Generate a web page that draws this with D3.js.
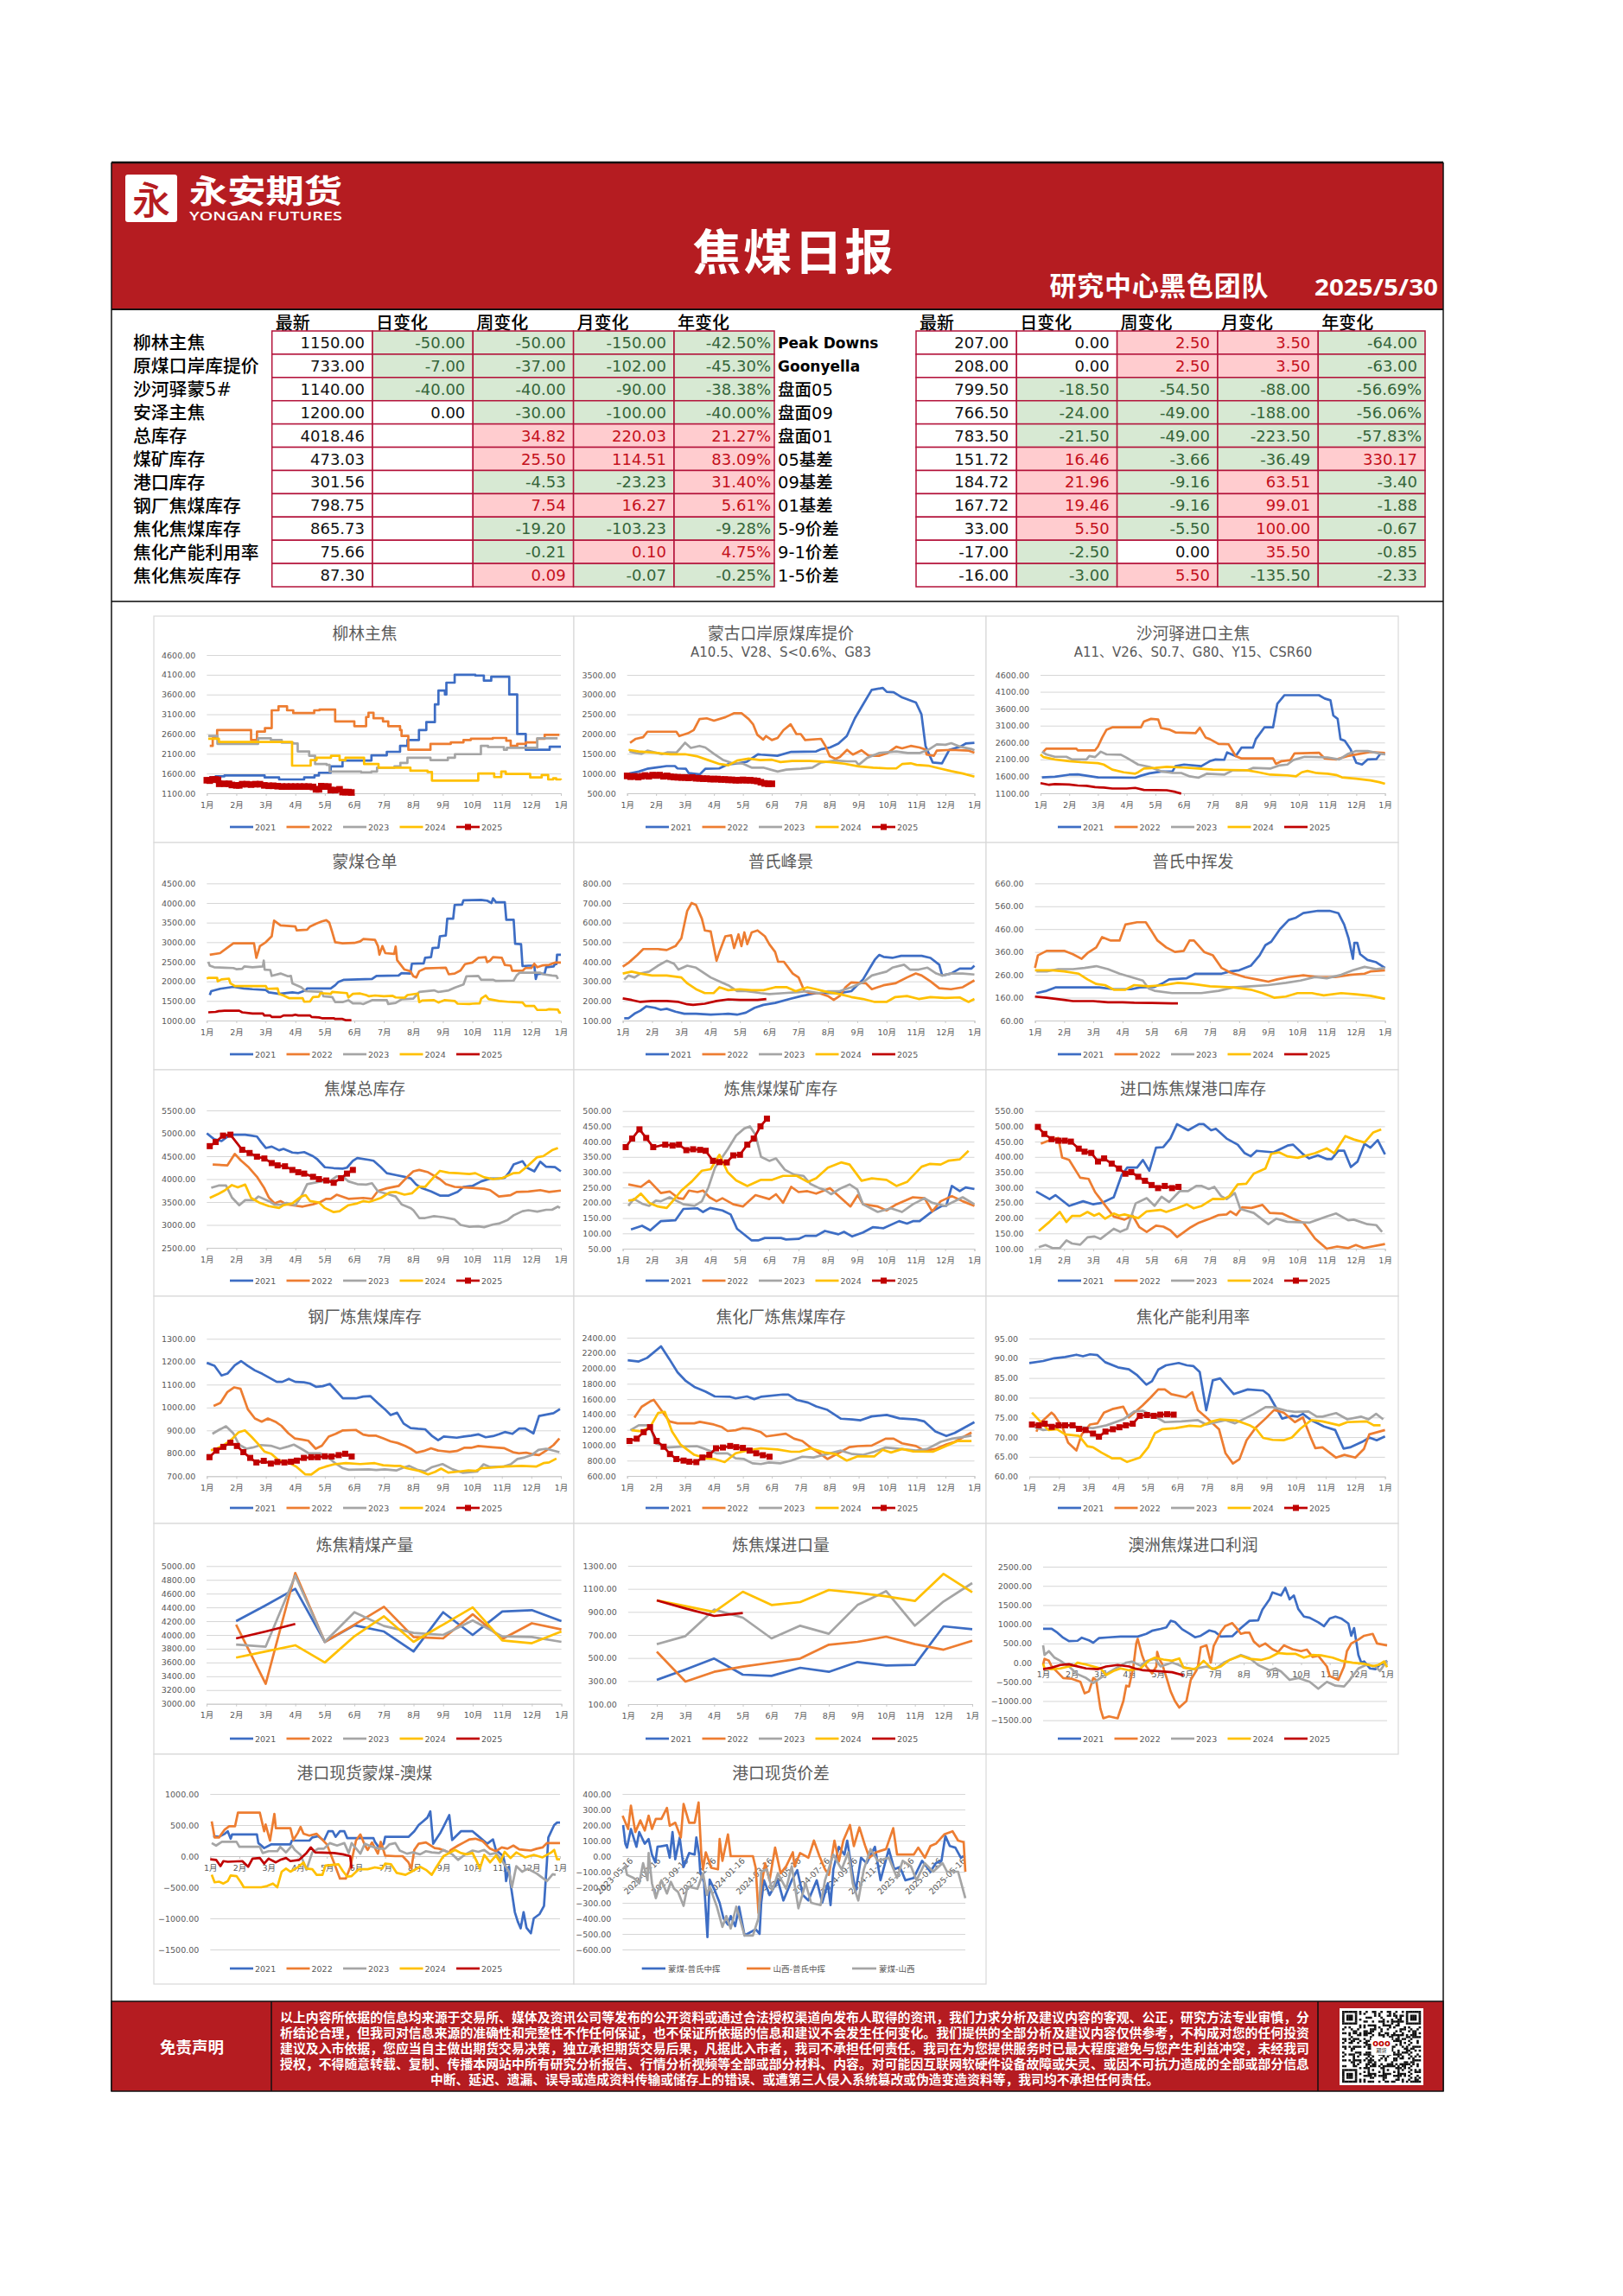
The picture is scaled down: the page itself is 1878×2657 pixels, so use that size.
<!DOCTYPE html>
<html><head><meta charset="utf-8">
<script src="https://cdn.jsdelivr.net/npm/d3@7"></script>
<style>html,body{margin:0;padding:0;background:#fff}svg{display:block}</style></head><body>
<svg id="s" width="1878" height="2657"></svg>
<script>
// ---------- table data ----------
const colHeads=['最新','日变化','周变化','月变化','年变化'];
const leftLabels=['柳林主焦','原煤口岸库提价','沙河驿蒙5#','安泽主焦','总库存','煤矿库存','港口库存','钢厂焦煤库存','焦化焦煤库存','焦化产能利用率','焦化焦炭库存'];
const leftLatest=['1150.00','733.00','1140.00','1200.00','4018.46','473.03','301.56','798.75','865.73','75.66','87.30'];
const leftDay=['-50.00','-7.00','-40.00','0.00','','','','','','',''];
const leftWeek=['-50.00','-37.00','-40.00','-30.00','34.82','25.50','-4.53','7.54','-19.20','-0.21','0.09'];
const leftMonth=['-150.00','-102.00','-90.00','-100.00','220.03','114.51','-23.23','16.27','-103.23','0.10','-0.07'];
const leftYear=['-42.50%','-45.30%','-38.38%','-40.00%','21.27%','83.09%','31.40%','5.61%','-9.28%','4.75%','-0.25%'];
const rightLabels=['Peak Downs','Goonyella','盘面05','盘面09','盘面01','05基差','09基差','01基差','5-9价差','9-1价差','1-5价差'];
const rightLatest=['207.00','208.00','799.50','766.50','783.50','151.72','184.72','167.72','33.00','-17.00','-16.00'];
const rightDay=['0.00','0.00','-18.50','-24.00','-21.50','16.46','21.96','19.46','5.50','-2.50','-3.00'];
const rightWeek=['2.50','2.50','-54.50','-49.00','-49.00','-3.66','-9.16','-9.16','-5.50','0.00','5.50'];
const rightMonth=['3.50','3.50','-88.00','-188.00','-223.50','-36.49','63.51','99.01','100.00','35.50','-135.50'];
const rightYear=['-64.00','-63.00','-56.69%','-56.06%','-57.83%','330.17','-3.40','-1.88','-0.67','-0.85','-2.33'];
const monthLabels=['1月','2月','3月','4月','5月','6月','7月','8月','9月','10月','11月','12月','1月'];
const yearNames=['2021','2022','2023','2024','2025'];

// ---------- series: flat lists of month position, value ----------
const liulin21=[.08,1500,.3,1530,.6,1550,1.96,1500,2.45,1450,3.3,1500,3.65,1550,3.8,1620,4.2,1780,4.6,1930,5.58,2060,6.1,2150,6.55,2300,6.8,2450,7.19,2700,7.44,2900,7.73,3350,7.85,3700,8.07,3600,8.12,3900,8.4,4100,9.1,4080,9.39,3950,9.64,4050,10.25,3600,10.52,2600,10.81,2200,11.62,2280,12,2280];
const liulin22=[.1,2300,.2,2490,.35,2700,1.5,2450,1.7,2660,1.97,2750,2.2,3200,2.43,3300,2.72,3200,2.93,3130,3.64,3200,3.82,3220,4.35,2920,5,2800,5.4,3030,5.48,3140,5.65,3000,5.97,2920,6.15,2800,6.55,2700,6.6,2550,6.83,2200,7.58,2350,8.27,2390,8.7,2450,8.95,2480,9.69,2500,10.15,2430,10.3,2300,10.52,2350,10.81,2390,11.2,2480,11.45,2580,11.95,2580];
const liulin23=[.05,2550,.36,2350,1.74,2490,2.17,2450,2.54,2380,2.93,2360,3.08,2160,3.47,2050,3.67,1840,4.06,1820,4.16,1650,5.23,1630,5.58,1650,5.77,1750,6.36,1780,6.56,1870,6.8,2000,7.58,1940,8.17,2000,8.41,2090,9.29,2300,9.53,2270,10.07,2200,10.17,2250,11.2,2490,11.89,2490];
const liulin24=[.05,2480,.41,2400,2.89,1800,3.52,1940,3.72,2000,4.21,2050,4.5,1940,4.7,2000,5.33,1840,5.82,1750,6.9,1670,7.48,1640,7.63,1420,9.2,1600,9.74,1510,9.98,1650,10.13,1590,10.96,1500,11.35,1560,11.57,1450,11.74,1480,11.84,1450,12,1440];
const liulin25=[0,1430,.1,1420,.2,1450,.3,1450,.38,1440,.42,1340,.6,1340,.75,1340,.85,1310,1,1300,1.1,1300,1.2,1330,1.35,1330,1.5,1320,1.65,1330,1.8,1330,1.95,1300,2.1,1290,2.25,1290,2.4,1280,2.55,1270,2.7,1270,2.85,1270,3,1270,3.15,1270,3.3,1270,3.45,1270,3.6,1260,3.7,1200,3.8,1200,3.88,1280,4,1270,4.12,1270,4.2,1180,4.35,1180,4.5,1200,4.6,1130,4.7,1130,4.8,1130,4.9,1120];

const mengk21=[.08,1000,.4,1050,.69,1120,1.07,1160,1.36,1190,1.65,1190,1.74,1130,2.03,1120,2.13,1010,2.51,980,2.7,1120,3.18,1130,3.47,1230,3.75,1250,4.14,1300,4.52,1490,4.62,1480,5.19,1450,5.67,1550,6.53,1560,6.72,1620,7.01,1660,7.3,1760,7.59,1950,7.87,2400,8.16,2760,8.45,3120,8.83,3170,8.97,3070,9.21,3060,9.5,2930,9.98,2800,10.17,2500,10.31,1700,10.56,1280,10.88,1260,11.13,1600,11.51,1680,11.7,1760,12,1780];
const mengk22=[.1,1780,.3,1880,.55,1920,.7,2060,1.7,2060,1.8,1950,2.1,2020,2.3,2100,2.5,2380,2.75,2400,3,2340,3.4,2430,3.7,2530,3.95,2530,4.2,2380,4.35,2250,4.5,1980,4.7,1860,4.8,1950,5,1850,5.2,1900,5.4,2100,5.65,2250,5.85,2000,6,2000,6.15,1850,6.7,1880,6.85,1700,7,1440,7.2,1370,7.35,1420,7.6,1600,7.8,1480,8.1,1590,8.35,1450,8.7,1450,9,1520,9.3,1680,9.5,1640,9.8,1700,10.1,1660,10.3,1610,10.35,1480,10.6,1450,10.7,1580,11.2,1600,11.8,1580,12,1530];
const mengk23=[.08,1560,.3,1520,.5,1500,.7,1580,1,1530,1.2,1490,1.4,1540,1.7,1530,1.85,1650,2,1780,2.2,1650,2.5,1700,2.7,1660,3,1500,3.3,1350,3.6,1270,4,1250,4.3,1150,4.7,1150,5.2,1050,5.5,1100,6,1120,6.4,1150,6.7,1280,7.2,1330,7.6,1310,7.9,1310,8,1220,8.3,1400,8.7,1520,9.3,1560,9.7,1520,10.1,1520,10.4,1600,10.7,1740,11,1730,11.2,1770,11.5,1680,11.9,1620,12,1590];
const mengk24=[.05,1600,.4,1560,.9,1530,1.5,1490,2,1490,2.4,1440,2.8,1340,3.2,1240,3.5,1210,3.8,1330,4.2,1380,4.6,1340,5,1350,5.3,1290,5.7,1320,6.3,1320,7,1290,7.5,1250,8,1180,8.5,1150,9,1130,9.3,1130,9.5,1240,9.8,1260,10,1220,10.4,1200,10.8,1130,11.2,1060,11.6,1000,12,920];
const mengk25=[0,940,.12,920,.25,930,.38,910,.5,930,.62,950,.75,930,.88,960,1,950,1.12,960,1.25,930,1.38,940,1.5,920,1.62,910,1.75,905,1.88,900,2,900,2.12,890,2.25,900,2.38,880,2.5,880,2.62,870,2.75,870,2.88,860,3,860,3.12,860,3.25,850,3.38,850,3.5,840,3.62,840,3.75,830,3.88,830,4,840,4.12,830,4.25,830,4.38,820,4.5,810,4.62,780,4.75,750,4.88,740,5,740];

const shahe21=[.05,1570,.5,1590,1,1650,1.3,1660,1.75,1600,2,1570,3.3,1560,3.5,1620,3.8,1690,4.2,1740,4.6,1750,4.7,1900,5,1950,5.6,1900,5.9,2050,6.1,2100,6.4,2090,6.5,2310,6.8,2200,7,2450,7.4,2450,7.5,2700,7.8,3050,8.1,3050,8.25,3750,8.5,4000,9.7,4000,9.9,3900,10.1,3850,10.2,3400,10.35,3300,10.45,2700,10.6,2650,10.8,2400,11,2000,11.2,1950,11.4,2100,11.7,2110,11.85,2280,12,2250];
const shahe22=[.1,2330,.2,2420,1.25,2420,1.3,2370,1.9,2370,2,2480,2.15,2750,2.3,2980,2.5,3050,3.5,3050,3.6,3220,3.85,3300,4.1,3280,4.2,3030,4.5,2980,4.7,2900,5.4,2880,5.55,3040,5.75,2750,5.9,2700,6.2,2560,6.55,2550,6.8,2200,7,2130,8.1,2130,8.2,1970,8.4,2050,8.7,2080,8.85,2280,9.7,2300,9.9,2130,10.3,2100,10.7,2200,11.2,2280,11.5,2320,12,2290];
const shahe23=[.05,2330,.2,2250,.5,2180,.9,2180,1.1,2100,1.6,2100,1.7,2200,1.9,2170,2.1,2330,2.3,2250,2.8,2240,3,2150,3.4,1950,3.8,1880,4.2,1750,4.6,1700,4.9,1700,5.2,1600,5.5,1560,5.8,1680,6.4,1650,6.7,1780,7.2,1780,7.4,1850,8,1830,8.3,1920,8.6,1950,8.8,2080,9.2,2180,10,2160,10.4,2100,10.7,2260,11,2350,11.4,2350,11.8,2280,12,2250];
const shahe24=[0,2250,.1,2170,.5,2100,1,2050,1.4,2020,2,1990,2.2,1950,2.5,1800,2.9,1720,3.3,1680,3.4,1720,3.6,1830,4,1850,4.4,1880,5,1860,5.5,1830,6,1800,6.6,1790,7.2,1780,7.6,1720,8,1650,8.6,1630,8.9,1600,9.1,1720,9.3,1760,9.6,1700,10,1680,10.3,1640,10.5,1570,11,1530,11.5,1480,11.8,1430,12,1380];
const shahe25=[0,1400,.3,1350,.5,1370,1,1360,1.3,1330,1.6,1320,1.9,1280,2.2,1270,2.5,1240,3,1240,3.3,1260,3.6,1200,4.4,1190,4.7,1140,4.9,1090];

const cangd21=[.1,1650,.15,1750,.45,1810,.9,1860,1.25,1820,1.55,1800,2,1780,2.1,1720,2.45,1680,2.9,1720,3.1,1700,3.35,1770,3.4,1820,4.2,1820,4.35,1900,4.45,1980,4.65,2040,5.6,2060,5.75,2140,6.5,2150,6.6,2210,6.9,2200,6.95,2450,7.35,2460,7.4,2600,7.6,2620,7.65,2850,7.85,2860,7.9,3150,8.1,3170,8.15,3600,8.35,3600,8.4,3950,8.65,3960,8.7,4070,9.3,4080,9.4,4070,9.5,4060,9.65,4000,9.7,4120,9.8,4020,10.1,4020,10.15,3570,10.4,3570,10.45,2960,10.65,2950,10.7,2390,10.9,2400,11.1,2400,11.15,2060,11.2,2190,11.45,2200,11.5,2360,11.75,2380,11.8,2440,11.85,2440,11.87,2680,12,2680];
const cangd22=[.1,2680,.45,2720,.9,2970,1.6,2970,1.68,2600,1.8,2900,2,3000,2.2,3150,2.28,3550,2.5,3430,3,3400,3.05,3300,3.4,3320,3.5,3400,3.7,3470,3.9,3530,4.05,3560,4.15,3500,4.25,3260,4.35,3000,4.6,2970,5,2980,5.2,3020,5.3,3080,5.7,3060,5.8,2900,5.85,2680,5.95,2900,6.05,2720,6.35,2700,6.4,2890,6.45,2540,6.7,2300,6.9,2260,7,2130,7.1,2100,7.2,2260,7.4,2330,8.1,2350,8.2,2180,8.4,2200,8.6,2280,8.75,2440,9,2480,9.2,2600,9.45,2620,9.5,2490,9.6,2530,9.7,2620,10,2600,10.1,2420,10.3,2400,10.35,2270,10.7,2270,10.8,2340,11,2340,11.1,2450,11.2,2360,11.4,2410,11.6,2420,11.8,2480,12,2480];
const cangd23=[.05,2500,.1,2400,.25,2360,.6,2350,.9,2340,1,2310,1.2,2320,1.27,2380,1.55,2360,1.9,2380,1.93,2530,1.96,2300,2.15,2290,2.2,2140,2.5,2200,2.75,2130,2.85,2140,2.9,1950,3.2,1850,3.35,1750,3.9,1730,3.95,1620,4.25,1600,4.35,1470,4.6,1470,4.8,1520,4.95,1440,5.2,1440,5.3,1420,5.6,1520,6.1,1520,6.15,1420,6.4,1450,6.6,1540,7,1560,7.2,1730,7.7,1770,7.85,1730,8.2,1770,8.4,1840,8.7,1920,8.8,2130,9.2,2140,9.3,2040,9.7,2040,9.8,2010,10.4,2020,10.5,2150,10.6,2220,11.3,2220,11.4,2180,11.7,2150,11.85,2140,11.9,2060];
const cangd24=[0,2070,.05,2090,.35,2090,.37,2000,.5,2050,.75,2070,.8,1950,.95,1880,1.8,1880,2,1880,2.05,1810,2.4,1820,2.45,1680,2.6,1640,2.8,1570,3.25,1570,3.3,1480,3.5,1490,3.6,1600,3.8,1610,3.85,1700,4.2,1680,4.25,1730,4.75,1700,4.8,1590,4.95,1680,5.2,1690,5.4,1650,5.5,1620,5.7,1640,6,1620,6.3,1630,6.4,1590,6.7,1580,6.8,1650,7.15,1690,7.2,1470,7.3,1510,7.7,1520,7.85,1460,8.05,1520,8.4,1500,8.5,1430,8.9,1420,9,1430,9.25,1440,9.3,1560,9.45,1640,9.55,1550,9.9,1500,10.2,1480,10.7,1460,10.8,1370,11.1,1370,11.2,1270,11.5,1270,11.6,1290,11.9,1280,11.95,1200,12,1210];
const cangd25=[.05,1210,.3,1220,.4,1240,.6,1250,1.1,1250,1.2,1210,1.55,1180,1.9,1180,1.95,1130,2.15,1130,2.2,1090,2.5,1090,2.6,1130,2.9,1130,3,1150,3.1,1130,3.5,1130,3.55,1090,3.8,1080,3.9,1060,4.3,1060,4.35,1040,4.6,1040,4.7,1010,4.9,1010];

const peak21=[.05,112,.2,112,.4,135,.6,150,.8,172,1.1,165,1.3,155,1.5,160,1.8,145,2.1,135,2.5,135,3,130,3.4,133,3.6,135,3.9,130,4.2,140,4.5,165,4.8,180,5.2,190,5.7,210,6.1,225,6.6,240,7,240,7.4,240,7.8,250,8.2,310,8.4,360,8.6,410,8.75,435,8.9,425,9.2,420,9.5,430,10.2,430,10.5,420,10.8,385,10.9,330,11.2,340,11.5,365,11.9,365,12,380];
const peak22=[0,375,.2,395,.5,435,.7,465,1.2,465,1.5,460,1.8,480,2,520,2.2,660,2.35,700,2.5,690,2.7,620,2.8,560,3,555,3.1,480,3.2,405,3.3,450,3.5,530,3.7,535,3.8,470,3.95,540,4.05,480,4.15,550,4.25,490,4.4,550,4.6,560,4.85,530,5,490,5.2,450,5.3,400,5.5,400,5.8,340,6,320,6.2,250,6.4,240,6.7,240,7,225,7.2,205,7.4,225,7.6,270,7.8,295,8.3,290,8.5,260,8.9,280,9.3,290,9.7,320,10,340,10.2,330,10.5,300,10.8,265,11.2,260,11.6,270,12,305];
const peak23=[.05,310,.2,330,.4,320,.6,340,.9,350,1.2,380,1.5,405,1.75,390,1.9,360,2.2,380,2.5,370,2.7,350,3,320,3.3,300,3.6,280,3.9,250,4.2,250,4.5,245,4.7,240,5,235,5.5,240,6,245,6.3,250,6.7,240,7,250,7.4,250,7.8,270,8.2,295,8.5,330,9,350,9.2,370,9.6,385,9.8,360,10.1,360,10.4,370,10.7,340,10.9,330,11.2,340,11.6,340,12,335];
const peak24=[0,340,.3,350,.6,340,1,330,1.5,330,2,320,2.2,290,2.5,260,2.8,240,3.1,240,3.3,270,3.6,255,4,260,4.4,255,4.8,255,5.2,270,5.6,270,5.9,250,6.3,270,6.6,260,7,245,7.4,235,7.8,220,8.2,210,8.6,195,9,195,9.3,220,9.7,225,10.1,210,10.5,220,11,215,11.5,218,11.8,195,12,210];
const peak25=[0,213,.3,205,.6,195,1,200,1.5,200,1.9,195,2.2,183,2.4,180,2.8,186,3.2,200,3.6,208,4,205,4.6,205,4.9,210];

const mid21=[.05,180,.4,190,.7,205,1.2,205,1.9,205,2.2,205,2.7,197,3.3,197,3.6,205,4.1,207,4.4,225,4.6,240,5.2,245,5.5,265,6.4,265,6.7,275,7,280,7.4,300,7.7,345,7.9,390,8.1,405,8.4,460,8.7,500,8.95,510,9.2,530,9.7,540,10.1,540,10.4,530,10.6,480,10.75,420,10.9,330,10.95,400,11.05,400,11.15,350,11.4,325,11.7,315,12,290];
const mid22=[0,290,.1,345,.4,365,1,365,1.3,350,1.6,330,1.8,355,2.1,380,2.3,425,2.6,410,2.9,410,3.1,480,3.5,490,3.8,490,4,450,4.2,410,4.5,380,4.8,360,5.1,365,5.3,410,5.45,410,5.8,360,6.1,345,6.4,290,6.7,270,7.2,250,7.6,240,8,230,8.3,240,8.7,250,9.2,258,9.7,250,10.3,250,10.8,260,11.3,265,11.5,275,12,280];
const mid23=[.05,275,.4,275,.8,285,1.3,285,1.7,290,2.1,298,2.5,285,2.9,265,3.3,250,3.7,235,3.9,200,4.1,190,4.7,180,5.2,180,5.7,180,6.3,190,6.8,205,7.4,210,8,215,8.6,225,9.1,235,9.6,250,10,245,10.5,260,10.9,280,11.3,295,11.7,285,12,290];
const mid24=[0,280,.6,280,1,275,1.5,265,1.8,240,2.1,220,2.4,215,2.7,195,3.1,195,3.4,215,3.9,210,4.4,215,4.9,225,5.4,220,6,210,6.8,205,7.4,195,7.8,180,8.2,160,8.6,165,9,180,9.5,180,9.9,170,10.5,180,11,175,11.5,168,12,155];
const mid25=[0,165,.4,160,1,150,1.3,145,2,145,2.5,140,3,140,3.4,138,4,137,4.7,135,4.9,135];

const total21=[0,5000,.25,4870,.5,4830,.75,4950,.9,4970,1.3,4970,1.5,4950,1.7,4930,1.85,4800,2,4680,2.2,4710,2.45,4630,2.6,4660,2.9,4580,3.1,4570,3.3,4590,3.6,4500,3.75,4430,4,4260,4.3,4240,4.6,4230,4.75,4250,4.95,4400,5.1,4460,5.5,4420,5.65,4400,5.9,4260,6.1,4130,6.4,4090,6.7,4050,6.9,4020,7.1,3880,7.3,3800,7.6,3730,7.9,3640,8.2,3640,8.5,3720,8.7,3830,9,3850,9.3,3950,9.6,4010,9.9,4010,10.1,4030,10.25,4150,10.4,4320,10.7,4390,10.85,4250,11.1,4170,11.3,4380,11.5,4270,11.8,4260,12,4170];
const total22=[.2,4320,.7,4300,.95,4550,1.15,4410,1.4,4270,1.7,4050,1.95,3800,2.1,3600,2.3,3470,2.5,3520,2.7,3450,3,3420,3.25,3400,3.6,3450,3.85,3500,4.05,3570,4.2,3570,4.4,3660,4.8,3570,5.3,3590,5.6,3570,5.8,3740,6.1,3800,6.5,3850,6.8,4050,7,4170,7.2,4200,7.5,4150,7.9,4000,8.1,3890,8.4,3830,8.7,3820,9,3810,9.4,3790,9.6,3760,9.9,3620,10.3,3650,10.5,3720,10.9,3730,11.3,3760,11.6,3720,12,3750];
const total23=[.15,3810,.4,3860,.65,3860,.85,3600,1.1,3430,1.3,3540,1.6,3540,1.75,3620,2.1,3520,2.3,3440,2.5,3440,2.7,3480,3,3430,3.2,3620,3.4,3890,3.8,3940,4.2,3970,4.4,4060,4.6,4060,4.8,3950,5.1,3890,5.4,3880,5.6,3910,5.8,3730,6.1,3680,6.4,3620,6.6,3450,6.9,3370,7,3320,7.2,3150,7.4,3150,7.7,3190,8,3170,8.4,3120,8.6,3000,8.9,2960,9.2,2970,9.4,2950,9.7,3010,9.9,3030,10.2,3110,10.4,3210,10.7,3300,10.9,3320,11.2,3290,11.5,3330,11.7,3330,11.9,3400,11.97,3370];
const total24=[.1,3590,.4,3680,.6,3750,.85,3870,1.05,3820,1.3,3880,1.5,3590,1.8,3480,2.1,3410,2.45,3370,2.6,3430,2.9,3470,3.2,3620,3.35,3650,3.5,3520,3.8,3490,4,3370,4.3,3280,4.5,3300,4.8,3430,5.1,3470,5.3,3520,5.5,3500,5.9,3590,6.2,3710,6.4,3720,6.7,3660,6.95,3690,7.2,3840,7.4,3830,7.7,4050,7.9,4180,8.2,4140,8.5,4130,8.9,4110,9.1,4130,9.4,4040,9.7,4000,10,4020,10.4,4130,10.6,4140,10.9,4300,11.2,4480,11.4,4500,11.7,4630,11.9,4680];
const total25=[.1,4720,.3,4810,.55,4950,.8,4970,1.2,4640,1.45,4570,1.7,4490,1.95,4450,2.2,4350,2.4,4300,2.65,4280,2.9,4200,3.1,4150,3.3,4120,3.6,4050,3.8,4000,4.05,3970,4.3,3920,4.55,4020,4.75,4120,4.95,4200];

const mine21=[.28,113,.66,125,.94,110,1.3,140,1.8,143,2.07,180,2.55,182,2.74,170,2.98,183,3.4,175,3.68,162,3.9,115,4.4,77,4.62,77,4.85,85,5.4,85,5.57,80,6,82,6.23,92,6.6,92,6.9,108,7.36,97,7.55,105,7.83,90,8.2,103,8.53,120,8.9,117,9.43,140,9.7,132,9.9,140,10.13,140,10.56,172,10.9,190,11.04,190,11.23,255,11.5,238,11.7,250,12,245];
const mine22=[.19,260,.62,252,.9,272,1.3,232,1.6,237,1.9,215,2.07,213,2.26,240,2.55,235,2.74,240,2.96,218,3.2,205,3.4,215,3.77,195,4.1,188,4.53,225,5,212,5.23,228,5.47,200,5.75,252,6,235,6.3,238,6.6,230,7.07,248,7.45,215,7.77,188,8.02,225,8.2,195,8.7,188,9,175,9.34,195,9.9,218,10.3,215,10.56,172,10.85,205,11.23,222,11.6,205,12,190];
const mine23=[.19,190,.38,213,.66,197,.9,190,1.13,207,1.3,205,1.6,218,2.07,195,2.45,190,2.7,205,2.92,250,3.15,315,3.58,375,3.87,420,4.15,443,4.34,450,4.53,422,4.72,350,5,337,5.23,345,5.53,308,5.85,292,6.17,288,6.4,262,6.7,248,6.9,242,7.11,228,7.45,248,7.74,260,8,244,8.2,195,8.7,170,9.15,182,9.53,170,9.9,195,10.3,215,10.56,200,11,190,11.6,218,12,195];
const mine24=[.19,207,.38,210,.62,230,.9,200,1.2,188,1.5,183,1.7,205,2,240,2.36,270,2.7,305,3,310,3.3,357,3.58,300,3.87,273,4.25,255,4.72,275,5.1,275,5.47,288,5.94,288,6.32,268,6.6,280,7,315,7.45,332,7.74,325,8.15,272,8.5,280,9,275,9.34,255,9.7,268,10.2,318,10.47,327,10.85,325,11.13,338,11.5,342,11.8,370];
const mine25=[.1,382,.32,410,.57,440,.8,412,1.04,382,1.45,390,1.7,387,1.92,390,2.17,372,2.4,375,2.64,373,2.83,370,3.08,337,3.3,333,3.55,332,3.77,355,4,357,4.25,390,4.47,410,4.7,450,4.92,475];

const port21=[.04,287,.5,262,.7,275,1.17,240,1.65,255,2,245,2.3,250,2.7,268,2.97,340,3.16,365,3.5,365,3.7,390,3.92,355,4.15,430,4.4,432,4.64,460,4.87,507,5.25,487,5.62,507,5.78,507,6.04,487,6.2,492,6.57,460,6.95,440,7.18,413,7.4,402,7.6,420,8.18,415,8.66,437,8.85,440,9.2,408,9.4,395,9.7,405,10,393,10.17,393,10.4,420,10.6,420,10.83,367,11.06,385,11.3,443,11.5,430,11.75,455,12,408];
const port22=[.2,443,.6,458,.8,462,.93,398,1.17,390,1.55,332,1.84,328,2.06,285,2.3,255,2.7,205,3.07,195,3.35,208,3.58,170,3.83,155,4.15,175,4.4,172,4.64,160,4.87,138,5.34,170,5.62,185,6,198,6.3,210,6.57,212,6.7,222,6.9,210,7.1,235,7.42,233,7.8,243,8.05,217,8.47,215,8.85,198,9.2,185,9.6,133,10,100,10.36,107,10.74,102,11,112,11.27,102,12,115];
const port23=[.13,105,.36,112,.6,102,.85,102,1.08,127,1.27,117,1.55,113,1.8,137,2.03,140,2.25,132,2.7,165,2.92,155,3.16,165,3.45,248,3.83,265,4.1,240,4.34,270,4.6,252,4.96,288,5.25,288,5.53,305,5.72,305,5.96,295,6.15,302,6.38,272,6.57,262,6.85,282,7.04,230,7.5,217,8,180,8.27,198,8.65,188,9.4,185,10,205,10.32,215,10.74,193,10.93,195,11.4,180,11.7,177,11.9,155];
const port24=[.13,158,.5,188,.85,220,1.08,187,1.27,207,1.55,207,1.8,220,2.03,208,2.2,215,2.4,198,2.7,215,2.88,208,3.07,212,3.54,200,3.83,222,4.3,227,4.5,220,4.87,232,5.2,245,5.44,232,5.72,240,6.1,263,6.47,262,6.66,272,6.95,310,7.24,312,7.5,345,7.9,362,8.1,410,8.37,415,8.65,402,9,397,9.6,412,10,428,10.26,412,10.64,468,10.93,457,11.3,447,11.6,480,11.87,490];
const port25=[.1,498,.32,475,.57,458,.8,453,1.02,453,1.23,450,1.5,427,1.7,417,1.93,413,2.16,385,2.37,395,2.63,378,2.88,362,3.1,345,3.3,350,3.54,335,3.77,322,4,308,4.22,298,4.45,305,4.7,298,4.92,302];

const steel21=[0,1195,.26,1182,.5,1140,.7,1148,.95,1185,1.16,1203,1.39,1182,1.63,1162,1.88,1147,2.12,1130,2.37,1112,2.56,1112,2.78,1125,3,1112,3.29,1110,3.49,1105,3.71,1090,3.93,1093,4.17,1103,4.61,1040,5.05,1040,5.3,1048,5.54,1050,5.79,1020,6.03,993,6.23,967,6.45,977,6.67,930,6.91,910,7.16,907,7.4,905,7.64,875,7.84,857,8.03,873,8.47,868,8.72,873,8.96,877,9.2,883,9.45,870,9.7,875,9.9,883,10.1,893,10.36,885,10.58,908,10.79,908,11.07,887,11.26,963,11.75,975,11.97,993];
const steel22=[.23,1007,.46,1020,.7,1068,.93,1088,1.14,1082,1.39,992,1.63,952,1.86,938,2.07,952,2.32,938,2.53,920,2.76,888,2.98,865,3.22,860,3.44,855,3.69,820,3.9,833,4.13,873,4.37,885,4.61,900,5.05,902,5.3,882,5.49,877,5.74,877,5.98,865,6.23,852,6.47,845,6.72,832,6.91,820,7.11,803,7.35,810,7.6,822,7.84,812,8.23,806,8.47,810,8.72,824,8.96,824,9.2,832,9.7,826,10.09,822,10.38,805,10.58,800,10.82,803,11.07,795,11.26,792,11.5,812,11.75,836,11.95,865];
const steel23=[.19,885,.41,902,.65,918,.9,887,1.09,838,1.34,820,1.55,825,1.83,836,2.17,833,2.48,820,2.76,830,2.95,838,3.2,820,3.46,800,3.83,800,4.13,780,4.37,755,4.61,735,4.81,728,5.49,730,5.74,727,6.03,730,6.42,725,6.67,738,6.86,745,7.16,727,7.4,722,7.64,740,7.99,753,8.33,730,8.67,715,9.16,720,9.38,752,9.6,740,10.04,742,10.3,752,10.53,775,10.77,782,11.02,793,11.24,815,11.5,820,11.95,805];
const steel24=[.14,813,.36,822,.6,838,.85,862,1.08,892,1.29,900,1.53,870,1.73,842,1.95,808,2.19,797,2.43,770,2.66,760,2.85,755,3.05,740,3.34,708,3.54,707,3.8,732,4.03,742,4.32,752,4.71,757,5.2,753,5.69,757,5.98,748,6.37,745,6.57,745,6.76,735,7.2,723,7.5,708,7.74,719,7.94,733,8.18,716,8.52,720,8.87,725,9.11,723,9.31,735,9.6,737,10.09,742,10.67,745,11.16,742,11.41,757,11.6,760,11.85,777];
const steel25=[.09,783,.32,812,.56,828,.8,846,1.02,832,1.24,805,1.47,780,1.68,760,1.93,767,2.17,755,2.39,762,2.63,760,2.85,763,3.05,768,3.29,780,3.54,783,3.76,783,4,787,4.23,786,4.47,792,4.69,798,4.91,786];

const coke21=[.02,2107,.4,2090,.69,2137,1.17,2287,1.46,2120,1.74,1950,2.03,1835,2.32,1760,2.7,1700,3.03,1635,3.56,1630,3.75,1610,4.14,1635,4.39,1600,4.62,1630,5.38,1660,5.57,1660,5.86,1590,6.25,1555,6.53,1505,6.92,1460,7.39,1345,7.78,1335,8.07,1325,8.45,1375,8.97,1395,9.41,1350,9.98,1335,10.27,1310,10.65,1180,11.03,1120,11.32,1160,12,1300];
const coke22=[.25,1360,.5,1500,.79,1570,.92,1590,1.17,1460,1.46,1310,1.74,1285,2.32,1285,2.51,1305,2.99,1270,3.28,1235,3.47,1185,3.75,1195,3.98,1222,4.23,1215,4.62,1170,4.81,1115,5.48,1150,5.77,1085,6.05,1055,6.34,970,6.63,900,6.92,820,7.39,915,7.68,975,7.97,988,8.45,995,8.93,1085,9.21,1085,9.5,1025,9.98,990,10.27,930,10.65,950,11.03,1010,11.32,1045,11.9,1165];
const coke23=[.11,1195,.4,1260,.79,1260,.98,1025,1.36,970,1.84,980,2.41,988,2.7,950,3.08,895,3.47,895,3.75,830,4.04,820,4.33,765,4.62,755,4.9,775,5.29,765,5.67,800,6.05,850,6.44,840,6.92,885,7.39,930,7.78,885,8.16,875,8.54,915,8.93,970,9.5,950,9.98,930,10.36,950,10.84,1045,11.23,1085,11.9,1125];
const coke24=[.15,1195,.5,1180,.79,1235,1.07,1420,1.3,1435,1.55,1180,1.84,1010,2.32,875,2.7,830,3.03,820,3.37,780,3.75,895,4.14,930,4.62,960,5.19,945,5.67,915,5.96,915,6.34,960,6.82,905,7.2,885,7.59,800,7.97,855,8.54,855,8.83,940,9.12,905,9.5,950,9.89,920,10.56,915,11.03,990,11.42,1055,11.9,1055];
const coke25=[.08,1055,.33,1085,.57,1170,.79,1235,1.02,1055,1.26,980,1.48,885,1.7,820,1.95,800,2.15,785,2.39,780,2.6,840,2.84,875,3.07,960,3.31,970,3.56,990,3.77,975,4,965,4.23,930,4.46,895,4.69,870,4.92,850];

const util21=[0,88.8,.47,89.3,.84,90,1.21,90.3,1.59,90.9,1.81,90.5,2.05,91,2.3,90.8,2.56,89,2.99,87.7,3.36,87.2,3.64,85.7,3.95,83.3,4.14,84.2,4.35,87.1,4.61,88.2,5.04,88.8,5.32,88.2,5.54,88,5.75,86.5,5.97,76.8,6.19,84.4,6.44,84.9,6.9,80.9,7.37,82.1,7.89,81.8,8.08,80.7,8.3,77.8,8.53,74.7,8.86,75.4,9.05,75.2,9.23,75.9,9.51,74.3,9.94,72.7,10.32,71.8,10.6,67.1,10.82,67.4,11.23,68.8,11.47,69.9,11.72,69.2,12,70.2];
const util22=[.24,71.4,.37,73.6,.75,76.2,.84,75.6,1.12,72.5,1.31,68.6,1.59,66.6,1.77,70.7,2.05,73.2,2.3,73.5,2.52,76.2,2.8,77.1,3.17,77.7,3.36,75,3.82,78,4.1,80.1,4.35,82.1,4.57,82.1,4.79,80.9,5.28,80.1,5.5,81.4,5.69,76.8,5.97,75,6.4,72,6.62,65.9,6.87,63.3,7.09,64.4,7.33,69.2,7.65,72.5,7.97,74.7,8.26,76.9,8.58,76.2,8.96,73.8,9.23,75,9.51,69.6,9.65,67.2,9.89,67.4,10.35,64.8,10.63,65.5,11,64.8,11.29,67,11.47,70.7,12,71.8];
const util23=[.19,72.5,.47,71.8,.84,72.1,1.21,73,1.68,72.5,2.15,72.3,2.61,73,3.17,74.5,3.54,76.5,3.82,76.7,4.2,75.4,4.57,73.8,5.13,74,5.69,74.3,5.97,73.2,6.62,74.3,6.94,73.5,7.56,75.8,7.97,77.6,8.21,77.6,8.68,76.7,8.96,76.4,9.42,76.5,9.7,75.2,9.89,75.2,10.35,76.1,10.73,74.5,11.19,75.2,11.44,74.5,11.7,75.9,11.94,74.5];
const util24=[.09,76.2,.37,74,.65,71.8,.93,72,1.21,70.7,1.68,70.3,1.96,67.7,2.15,67.4,2.43,66.1,2.8,64.6,3.08,64.6,3.3,63.7,3.73,64.8,4.01,67.4,4.24,71,4.48,72,4.94,72.3,5.41,72.9,5.78,72.7,6.16,74,6.44,74.5,7,74.2,7.46,72.9,7.65,72.1,7.89,69.8,8.21,69.3,8.58,69.2,8.86,69.9,9.14,72.1,9.51,74.3,9.89,74,10.45,73,10.73,73.8,11.38,74,11.62,73,11.85,73];
const util25=[.09,73.2,.32,73,.52,73.4,.76,72.6,.99,73,1.21,73,1.46,73,1.68,72.1,1.9,71.8,2.15,70.9,2.35,70.1,2.57,71.4,2.82,72,3.04,72.5,3.26,73,3.49,73.4,3.73,75.4,3.97,75.6,4.2,75.4,4.42,75.7,4.65,75.8,4.87,75.7];

// monthly series, first value falls on 2月
const output21=[4200,4430,4670,3900,4140,4050,3760,4330,4000,4340,4360,4200];
const output22=[4150,3290,4900,3900,4150,4410,3970,3950,4300,3940,4170,4080];
const output23=[3860,3830,4860,3900,4330,4130,4030,4000,4210,3980,3970,3900];
const output24=[3670,3760,3850,3600,3980,4270,3900,4150,4400,3920,3880,4050];
const output25=[3950,4050,4160];
const imports21=[310,400,495,355,345,415,380,465,435,440,775,750];
const imports22=[555,295,380,425,460,495,615,640,685,620,572,650];
const imports23=[620,690,920,850,670,780,710,960,1080,780,990,1150];
const imports24=[1000,950,900,1075,960,985,1090,1065,1035,995,1230,1070];
const imports25=[1000,930,865,890];

const profit21=[0,880,.3,880,.5,780,.7,650,.9,560,1.2,570,1.35,650,1.6,580,1.75,520,1.95,640,2.3,660,2.7,680,3.3,680,3.6,750,3.8,830,4.1,880,4.3,920,4.45,1090,4.6,1060,4.85,870,5.1,760,5.3,660,5.5,700,5.8,840,6,800,6.2,680,6.6,690,6.9,900,7.2,1090,7.5,1100,7.65,1380,7.9,1650,8,1830,8.3,1750,8.45,1950,8.6,1650,8.75,1750,8.9,1400,9.1,1200,9.3,1170,9.6,1050,9.8,950,10,1150,10.2,1200,10.4,1150,10.65,1020,10.75,700,10.85,900,11,200,11.1,0,11.2,30,11.4,-150,11.6,-170,11.75,-50,11.85,-30,12,50];
const profit22=[0,-50,.05,100,.2,50,.3,-100,.5,-250,.7,-400,1,-420,1.3,-500,1.45,-800,1.6,-750,1.75,-400,1.85,-450,2,-1200,2.1,-1450,2.3,-1400,2.6,-1450,2.8,-1000,2.9,-600,3,-620,3.15,-100,3.25,500,3.3,620,3.45,200,3.6,-100,3.8,-280,3.95,-100,3.98,280,4.05,100,4.15,-30,4.3,-380,4.45,-750,4.6,-1000,4.75,-1170,5,-1000,5.15,-450,5.35,-200,5.4,-100,5.5,400,5.7,450,5.85,0,5.95,430,6.2,800,6.35,950,6.6,1030,6.75,900,6.9,750,7.05,780,7.2,780,7.35,550,7.55,420,7.75,500,8,350,8.2,280,8.4,450,8.7,350,9,300,9.2,340,9.4,150,9.6,180,9.9,-100,10,-350,10.3,-450,10.5,-100,10.6,300,10.75,500,11,600,11.2,700,11.5,750,11.65,500,12,450];
const profit23=[0,450,.05,200,.2,300,.4,130,.6,50,.9,-100,1.2,-300,1.5,-400,1.75,-530,2,-400,2.3,-250,2.6,-120,2.9,0,3.1,30,3.4,-80,3.6,40,3.9,100,4.1,-100,4.3,-50,4.5,0,4.7,-50,4.9,-120,5.2,-170,5.7,-100,6,-170,6.3,0,6.6,100,6.9,200,7.2,120,7.5,-60,7.9,-200,8.1,-150,8.3,-230,8.6,-450,8.9,-400,9.3,-500,9.6,-680,9.9,-500,10.2,-600,10.5,-620,10.7,-450,11,-150,11.3,-50,11.6,-100,11.75,-220,12,50];
const profit24=[0,-30,.05,-150,.3,-170,.6,-150,.9,-100,1.1,-70,1.2,0,1.5,-50,2,-150,2.2,-320,2.45,-220,2.7,-150,3,-200,3.4,-150,3.7,60,3.9,130,4.2,80,4.5,50,4.75,110,4.9,-130,5.3,-170,5.6,50,5.9,-170,6.2,-100,6.5,70,6.9,180,7.2,100,7.6,70,7.9,130,8.2,250,8.5,230,8.8,230,9.1,130,9.4,200,9.7,190,10.1,130,10.4,50,10.8,0,11.2,-30,11.5,-90,11.7,-60,11.9,30,12,-120];
const profit25=[0,-170,.3,-130,.6,-60,.9,-40,1.1,-80,1.5,-150,1.9,-170,2.2,-100,2.6,-60,3,-100,3.2,-150,3.5,-200,4,-220,4.5,-250,4.9,-330];

const spread21=[.1,320,.3,310,.5,360,.6,400,.7,280,.75,350,1.6,350,1.65,210,1.85,130,2.1,190,2.75,190,2.8,250,3.4,250,3.5,300,3.7,320,3.9,250,4.05,400,4.2,400,4.3,310,4.45,400,4.6,400,4.7,290,5.6,290,5.65,230,5.8,130,5.95,200,6,310,6.8,310,7,400,7.15,500,7.3,560,7.45,620,7.55,720,7.65,200,7.9,380,8,470,8.2,660,8.3,260,8.6,400,9,400,9.25,300,9.5,200,9.7,270,9.8,100,10.05,0,10.1,-100,10.15,-400,10.25,-170,10.3,-430,10.45,-900,10.55,-1050,10.65,-1160,10.75,-900,10.85,-1150,11,-1240,11.1,-1000,11.3,-930,11.45,-800,11.55,-100,11.6,300,11.8,500,11.9,540,12,540];
const spread22=[.05,560,.15,300,.3,300,.5,430,.65,480,.85,480,.95,700,1.7,700,1.85,400,1.9,510,2.05,250,2.2,680,2.25,450,2.75,450,2.85,260,3,370,3.1,470,3.2,360,3.4,330,3.65,360,4,190,4.25,-110,4.45,-360,4.65,-360,4.8,-180,5,250,5.15,350,5.3,180,5.4,100,5.55,220,5.75,40,5.85,230,6,10,6.35,0,6.6,0,6.8,-100,6.9,-200,7,100,7.15,200,7.4,220,7.7,130,7.85,120,8.2,60,8.25,100,8.5,170,8.7,220,8.9,270,9.1,280,9.35,240,9.6,120,9.8,80,10,140,10.2,120,10.4,170,10.6,110,10.8,100,11,90,11.2,120,11.4,140,11.55,210,12,210];
const spread23=[.05,210,.2,170,.4,230,.9,230,1,150,1.7,150,1.8,50,2,80,2.3,80,2.4,150,2.6,60,2.8,170,2.9,100,3.1,20,3.3,-220,3.5,60,3.7,120,3.9,120,4.1,210,4.35,170,4.6,210,4.75,50,4.85,210,5.15,40,5.3,200,5.5,160,5.8,120,6,120,6.15,190,6.35,210,6.5,90,6.75,40,6.95,60,7.2,30,7.4,80,7.6,60,7.85,50,8,100,8.3,30,8.5,-60,8.75,30,9,90,9.2,70,9.4,100,9.6,30,9.8,50,10.05,-100,10.25,-250,10.35,-500,10.5,-160,10.7,-250,10.9,-200,11,-230,11.2,-280,11.4,-350,11.55,-400,11.75,-290,11.85,-300];
const spread24=[.05,-300,.15,-420,.3,-410,.45,-440,.6,-400,.7,-310,.9,-320,1.05,-420,1.15,-500,1.75,-500,1.95,-480,2.15,-440,2.3,-500,2.45,-250,2.6,-200,2.75,-250,3,-180,3.2,-100,3.3,-200,3.5,-210,3.65,-300,3.85,-300,3.95,-150,4.4,-130,4.55,-240,4.7,-330,4.85,-320,5.1,-210,5.4,-210,5.65,-180,5.9,-200,6,-120,6.2,-130,6.4,-270,6.7,-300,6.9,-250,7.2,-170,7.4,-220,7.6,-300,7.75,-180,8,0,8.2,50,8.4,100,8.6,50,8.8,30,9,50,9.15,-90,9.25,-200,9.4,20,9.6,-100,9.8,10,9.95,-100,10.1,70,10.3,-30,10.5,60,10.8,-20,11.1,20,11.4,-20,11.7,60,11.8,100,11.9,-50,12,-50];
const spread25=[0,-50,.2,-60,.35,-160,.45,-80,.6,-90,1.1,-80,1.3,-170,1.45,-40,1.7,-30,1.85,-120,2,-40,2.25,-100,2.4,-60,2.6,-30,2.75,-80,3.05,-60,3.3,50,3.45,140,3.6,60,4.25,50,4.55,30,4.8,0,4.85,-200];

// price differentials: flat lists of sample index (0-618), value
const diffMengPuShi=[1,200,5,80,8,55,15,175,25,60,30,155,40,80,47,110,53,10,59,-40,63,60,80,70,85,-10,90,155,95,-20,103,120,110,-70,120,20,130,10,133,120,138,10,140,-100,147,-170,153,-520,157,-150,165,-210,175,-300,182,-400,190,-440,195,-385,203,-450,210,-325,220,-510,240,-470,247,-500,250,-300,255,-155,265,-250,280,-155,290,-285,305,-155,315,-90,325,-250,335,-285,350,-155,360,-300,370,-175,375,-315,380,-85,390,60,400,10,405,100,420,-230,430,-10,440,-45,455,60,465,-155,480,45,490,-85,500,-70,510,-155,525,-140,540,-30,555,-100,565,-45,575,-30,582,130,590,65,600,55,610,-10,615,0];
const diffShanXi=[0,260,10,175,15,325,23,155,32,230,40,165,47,260,53,175,60,240,70,240,80,310,85,195,95,215,105,120,110,335,120,215,130,215,137,345,142,10,145,-85,150,25,160,-75,172,-85,175,110,180,-30,190,140,195,0,235,0,240,-75,245,-365,250,-195,257,-45,265,-155,275,55,285,-110,295,-65,307,25,310,-65,320,20,335,-10,345,100,355,0,365,-85,372,-120,382,100,390,-35,398,100,410,200,417,65,427,185,437,70,445,-10,457,25,475,45,488,180,495,10,525,10,533,55,545,-10,555,65,565,80,580,140,595,160,605,100,615,90,618,-100];
const diffMengShanXi=[0,-85,5,-65,8,-120,20,-140,30,-175,37,-45,45,-155,47,20,53,-175,60,-270,70,-155,80,-240,87,-165,93,-210,100,-230,110,-320,117,-195,135,-210,145,-110,152,-250,157,-195,170,-325,180,-455,187,-385,195,-465,205,-325,210,-385,220,-510,235,-510,245,-400,250,-100,260,-85,270,-220,280,-110,295,-210,305,-65,317,-335,330,-175,340,-300,357,-315,365,-155,380,10,395,-85,407,25,415,-175,425,-285,435,-85,447,45,460,-30,480,-10,495,-140,505,-30,520,-65,530,-155,545,-45,560,-100,577,-45,585,-100,605,-100,618,-270];
const diffDates=['2023-05-16','2023-07-16','2023-09-16','2023-11-16','2024-01-16','2024-03-16','2024-05-16','2024-07-16','2024-09-16','2024-11-16','2025-01-16','2025-03-16','2025-05-16'];
const diffDateIdx=[10,60,110,160,212,262,313,365,415,465,517,567,610];
const diffNames=['蒙煤-普氏中挥','山西-普氏中挥','蒙煤-山西'];

// tick lists
const ticksLiulin=[1100,1600,2100,2600,3100,3600,4100,4600];
const ticksMengk=[500,1000,1500,2000,2500,3000,3500];
const ticksCangd=[1000,1500,2000,2500,3000,3500,4000,4500];
const ticksPeak=[100,200,300,400,500,600,700,800];
const ticksMid=[60,160,260,360,460,560,660];
const ticksTotal=[2500,3000,3500,4000,4500,5000,5500];
const ticksMine=[50,100,150,200,250,300,350,400,450,500];
const ticksPort=[100,150,200,250,300,350,400,450,500,550];
const ticksSteel=[700,800,900,1000,1100,1200,1300];
const ticksCoke=[600,800,1000,1200,1400,1600,1800,2000,2200,2400];
const ticksUtil=[60,65,70,75,80,85,90,95];
const ticksOutput=[3000,3200,3400,3600,3800,4000,4200,4400,4600,4800,5000];
const ticksImports=[100,300,500,700,900,1100,1300];
const ticksProfit=[-1500,-1000,-500,0,500,1000,1500,2000,2500];
const ticksSpread=[-1500,-1000,-500,0,500,1000];
const ticksDiff=[-600,-500,-400,-300,-200,-100,0,100,200,300,400];

// ---------- layout / style ----------
const CJK='"Noto Sans CJK SC"';
const LAT='"DejaVu Sans","Noto Sans CJK SC"';
const colors=['#3d6dc4','#ed7d31','#a5a5a5','#ffc000','#c00000'];
const colX=[[178,664],[664,1141],[1141,1618]];
const rowY=[[713,975],[975,1238],[1238,1500],[1500,1763],[1763,2030],[2030,2296]];
const titleY=[731,995,1258,1522,1786,2050];
const pairs=f=>d3.range(0,f.length,2).map(i=>[f[i],f[i+1]]);
const monthly=a=>a.map((v,i)=>[i+1,v]);
const charts=[
 {t:'柳林主焦',c:0,r:0,L:239.3,R:649,T:758,B:918,ticks:ticksLiulin,s:[liulin21,liulin22,liulin23,liulin24,liulin25].map(pairs),step:[0,1,2,3],mark:true},
 {t:'蒙古口岸原煤库提价',sub:'A10.5、V28、S<0.6%、G83',c:1,r:0,L:725.7,R:1127.5,T:781,B:918,ticks:ticksMengk,s:[mengk21,mengk22,mengk23,mengk24,mengk25].map(pairs),mark:true},
 {t:'沙河驿进口主焦',sub:'A11、V26、S0.7、G80、Y15、CSR60',c:2,r:0,L:1204,R:1602.6,T:781,B:918,ticks:ticksLiulin,s:[shahe21,shahe22,shahe23,shahe24,shahe25].map(pairs)},
 {t:'蒙煤仓单',c:0,r:1,L:239.3,R:649,T:1022.3,B:1181,ticks:ticksCangd,s:[cangd21,cangd22,cangd23,cangd24,cangd25].map(pairs)},
 {t:'普氏峰景',c:1,r:1,L:720.6,R:1127.5,T:1022.3,B:1181,ticks:ticksPeak,s:[peak21,peak22,peak23,peak24,peak25].map(pairs)},
 {t:'普氏中挥发',c:2,r:1,L:1197.6,R:1602.6,T:1022.3,B:1181,ticks:ticksMid,s:[mid21,mid22,mid23,mid24,mid25].map(pairs)},
 {t:'焦煤总库存',c:0,r:2,L:239.3,R:649,T:1285,B:1444,ticks:ticksTotal,s:[total21,total22,total23,total24,total25].map(pairs),mark:true},
 {t:'炼焦煤煤矿库存',c:1,r:2,L:720.6,R:1127.5,T:1285.7,B:1445,ticks:ticksMine,s:[mine21,mine22,mine23,mine24,mine25].map(pairs),mark:true},
 {t:'进口炼焦煤港口库存',c:2,r:2,L:1197.6,R:1602.6,T:1285.7,B:1445,ticks:ticksPort,s:[port21,port22,port23,port24,port25].map(pairs),mark:true},
 {t:'钢厂炼焦煤库存',c:0,r:3,L:239.3,R:649,T:1549.3,B:1708.3,ticks:ticksSteel,s:[steel21,steel22,steel23,steel24,steel25].map(pairs),mark:true},
 {t:'焦化厂炼焦煤库存',c:1,r:3,L:725.7,R:1127.5,T:1548,B:1708,ticks:ticksCoke,s:[coke21,coke22,coke23,coke24,coke25].map(pairs),mark:true},
 {t:'焦化产能利用率',c:2,r:3,L:1191,R:1602.6,T:1549,B:1708.7,ticks:ticksUtil,s:[util21,util22,util23,util24,util25].map(pairs),mark:true},
 {t:'炼焦精煤产量',c:0,r:4,L:239,R:649.6,T:1812.3,B:1971.7,ticks:ticksOutput,s:[output21,output22,output23,output24,output25].map(monthly)},
 {t:'炼焦煤进口量',c:1,r:4,L:726.8,R:1125,T:1812,B:1972,ticks:ticksImports,s:[imports21,imports22,imports23,imports24,imports25].map(monthly)},
 {t:'澳洲焦煤进口利润',c:2,r:4,L:1207,R:1605,T:1813,B:1990.7,ticks:ticksProfit,s:[profit21,profit22,profit23,profit24,profit25].map(pairs),zero:true},
 {t:'港口现货蒙煤-澳煤',c:0,r:5,L:243.3,R:648,T:2076,B:2256,ticks:ticksSpread,s:[spread21,spread22,spread23,spread24,spread25].map(pairs),zero:true},
 {t:'港口现货价差',c:1,r:5,L:720.4,R:1117,T:2076,B:2256,ticks:ticksDiff,s:[diffMengPuShi,diffShanXi,diffMengShanXi].map(pairs),dates:true,zero:true}
];

const svg=d3.select('#s');
svg.append('rect').attr('width',1878).attr('height',2657).attr('fill','#fff');
const RED='#b51c21';

// ---------- header ----------
svg.append('rect').attr('x',129).attr('y',188).attr('width',1541).attr('height',170).attr('fill',RED);
svg.append('rect').attr('x',145).attr('y',202).attr('width',60).attr('height',55).attr('rx',3).attr('fill','#fff');
const txt=(g,x,y,s,o={})=>g.append('text').attr('x',x).attr('y',y).text(s)
  .attr('font-family',o.ff||CJK).attr('font-size',o.fs||12).attr('font-weight',o.fw||400)
  .attr('fill',o.fill||'#000').attr('text-anchor',o.a||'start').attr('dominant-baseline','central');
txt(svg,175,229,'永',{fs:44,fw:500,fill:RED,a:'middle'});
txt(svg,219,219,'永安期货',{fs:37,fw:700,fill:'#fff'}).attr('textLength',177).attr('lengthAdjust','spacingAndGlyphs');
txt(svg,219,249.5,'YONGAN FUTURES',{fs:14.5,fw:600,fill:'#fff',ff:'"Open Sans"'}).attr('textLength',177).attr('lengthAdjust','spacingAndGlyphs');
txt(svg,917.6,287,'焦煤日报',{fs:56,fw:700,fill:'#fff',a:'middle'}).attr('textLength',232);
txt(svg,1214.5,328.5,'研究中心黑色团队',{fs:31,fw:700,fill:'#fff'}).attr('textLength',253);
txt(svg,1521,331,'2025/5/30',{fs:27,fw:700,fill:'#fff',ff:'"Noto Sans"'}).attr('textLength',143).attr('lengthAdjust','spacingAndGlyphs');

// ---------- tables ----------
const rows=d3.scaleBand().domain(d3.range(11)).range([383,679]);
function table(labels,labelX,cols,edges,labelSize){
  colHeads.forEach((h,i)=>txt(svg,edges[i]+4,372,h,{fs:20,fw:500}));
  labels.forEach((l,j)=>{
    const latin=/^[A-Za-z ]+$/.test(l);
    txt(svg,labelX,rows(j)+rows.bandwidth()/2+1,l,{fs:latin?17:labelSize,fw:latin?700:500,ff:LAT});
  });
  cols.forEach((col,i)=>{
    const cw=edges[i+1]-edges[i];
    col.forEach((v,j)=>{
      const n=parseFloat(v);
      const tint=i===0||v===''||n===0?'#fff':(n<0?'#d7e9d3':'#ffcccf');
      svg.append('rect').attr('x',edges[i]).attr('y',rows(j)).attr('width',cw).attr('height',rows.bandwidth())
        .attr('fill',tint).attr('stroke','#b3123a').attr('stroke-width',1.5);
      const col2=i===0||n===0?'#111':(n<0?'#35653a':'#c4101c');
      if(v!=='') txt(svg,edges[i]+cw-(v.endsWith('%')?4:9),rows(j)+rows.bandwidth()/2,v,{fs:18,fill:col2,a:'end',ff:LAT});
    });
  });
}
table(leftLabels,154,[leftLatest,leftDay,leftWeek,leftMonth,leftYear],[314.7,431,547.3,663.6,780,896],20.8);
table(rightLabels,900,[rightLatest,rightDay,rightWeek,rightMonth,rightYear],[1060,1176.3,1292.6,1409,1525.3,1649],19.5);

// ---------- frame ----------
const frame=(x1,y1,x2,y2,c,w)=>svg.append('line').attr('x1',x1).attr('y1',y1).attr('x2',x2).attr('y2',y2).attr('stroke',c).attr('stroke-width',w);
frame(129,188,1670,188,'#111',2.5);frame(129,358,1670,358,'#111',2);frame(129,696,1670,696,'#444',2);
frame(129,188,129,2420,'#111',1.5);frame(1670,188,1670,2420,'#111',1.5);

// ---------- charts ----------
charts.forEach(ch=>{
  const [px0,px1]=colX[ch.c],[py0,py1]=rowY[ch.r];
  const g=svg.append('g');
  g.append('rect').attr('x',px0).attr('y',py0).attr('width',px1-px0).attr('height',py1-py0).attr('fill','#fff').attr('stroke','#d9d9d9').attr('stroke-width',1.2);
  const cx=(px0+px1)/2+1;
  txt(g,cx,titleY[ch.r],ch.t,{fs:18.8,fill:'#595959',a:'middle',fw:400});
  if(ch.sub) txt(g,cx,754.5,ch.sub,{fs:15,fill:'#595959',a:'middle',ff:LAT});
  const y=d3.scaleLinear().domain(d3.extent(ch.ticks)).range([ch.B,ch.T]);
  const x=d3.scaleLinear().domain(ch.dates?[0,618]:[0,12]).range([ch.L,ch.R]);
  const base=ch.zero?y(0):ch.B;
  const ya=g.append('g').attr('transform',`translate(${ch.L},0)`)
    .call(d3.axisLeft(y).tickValues(ch.ticks).tickFormat(d3.format('.2f')).tickSize(-(ch.R-ch.L)).tickPadding(13));
  ya.select('.domain').remove();
  ya.selectAll('line').attr('stroke','#d6d6d6');
  ya.selectAll('text').attr('font-family',LAT).attr('font-size',9.5).attr('fill','#595959');
  const axisB=ch.dates
    ? d3.axisBottom(x).tickValues(diffDateIdx).tickFormat((d,i)=>diffDates[i]).tickSize(0).tickPadding(6)
    : d3.axisBottom(x).tickValues(d3.range(13)).tickFormat((d,i)=>monthLabels[i]).tickSize(3).tickPadding(7);
  const xa=g.append('g').attr('transform',`translate(0,${base})`).call(axisB);
  xa.select('.domain').attr('stroke','#c8c8c8');
  xa.selectAll('line').attr('stroke','#c8c8c8');
  xa.selectAll('text').attr('font-family',LAT).attr('font-size',9.5).attr('fill','#595959');
  if(ch.dates) xa.selectAll('text').attr('text-anchor','end').attr('dx',4).attr('dy',4).attr('transform',function(){return `rotate(-45 0 ${this.getAttribute('y')})`});
  const lineCols=ch.dates?[colors[0],colors[1],colors[2]]:colors;
  const mk=ch.r===0?7.6:7;
  ch.s.forEach((data,si)=>{
    const step=ch.step&&ch.step.includes(si);
    const line=d3.line().x(d=>x(d[0])).y(d=>y(d[1])).curve(step?d3.curveStepAfter:d3.curveLinear);
    g.append('path').attr('d',line(data)).attr('fill','none').attr('stroke',lineCols[si]).attr('stroke-width',2.7).attr('stroke-linejoin','round');
    if(ch.mark&&si===4) g.selectAll(null).data(data).join('rect').attr('x',d=>x(d[0])-mk/2).attr('y',d=>y(d[1])-mk/2).attr('width',mk).attr('height',mk).attr('fill',colors[4]);
  });
  // legend
  const ly=py1-18;
  if(ch.dates){
    [[742.7,773],[864,894.5],[986,1017]].forEach((p,i)=>{
      g.append('line').attr('x1',p[0]).attr('x2',p[1]-3).attr('y1',ly).attr('y2',ly).attr('stroke',lineCols[i]).attr('stroke-width',2.7);
      txt(g,p[1],ly,diffNames[i],{fs:9.5,fill:'#595959',ff:LAT});
    });
  } else {
    const x0=px0+(ch.c===0?88:83);
    yearNames.forEach((n,i)=>{
      const lx=x0+i*65.5;
      g.append('line').attr('x1',lx).attr('x2',lx+27).attr('y1',ly).attr('y2',ly).attr('stroke',colors[i]).attr('stroke-width',2.7);
      if(ch.mark&&i===4) g.append('rect').attr('x',lx+10).attr('y',ly-3.5).attr('width',7).attr('height',7).attr('fill',colors[4]);
      txt(g,lx+29,ly,n,{fs:9.5,fill:'#595959',ff:LAT});
    });
  }
});

// ---------- footer ----------
const footerLines=[
 '以上内容所依据的信息均来源于交易所、媒体及资讯公司等发布的公开资料或通过合法授权渠道向发布人取得的资讯，我们力求分析及建议内容的客观、公正，研究方法专业审慎，分',
 '析结论合理，但我司对信息来源的准确性和完整性不作任何保证，也不保证所依据的信息和建议不会发生任何变化。我们提供的全部分析及建议内容仅供参考，不构成对您的任何投资',
 '建议及入市依据，您应当自主做出期货交易决策，独立承担期货交易后果，凡据此入市者，我司不承担任何责任。我司在为您提供服务时已最大程度避免与您产生利益冲突，未经我司',
 '授权，不得随意转载、复制、传播本网站中所有研究分析报告、行情分析视频等全部或部分材料、内容。对可能因互联网软硬件设备故障或失灵、或因不可抗力造成的全部或部分信息',
 '中断、延迟、遗漏、误导或造成资料传输或储存上的错误、或遭第三人侵入系统篡改或伪造变造资料等，我司均不承担任何责任。'];
svg.append('rect').attr('x',129).attr('y',2316).attr('width',1541).attr('height',104).attr('fill',RED).attr('stroke','#111').attr('stroke-width',1.5);
frame(314,2316,314,2420,'#111',1.5);frame(1525,2316,1525,2420,'#111',1.5);
txt(svg,222,2368,'免责声明',{fs:18.5,fw:700,fill:'#fff',a:'middle'});
footerLines.forEach((l,i)=>{
  const t=txt(svg,919.5,2333+i*18.2,l,{fs:14.5,fw:700,fill:'#fff',a:'middle'});
  t.attr('textLength',i<4?1191:843).attr('lengthAdjust','spacingAndGlyphs');
});
// decorative QR block
const qrN=37,qrX=1550,qrY=2324,qrW=97,qrH=89,qrPad=3;
svg.append('rect').attr('x',qrX).attr('y',qrY).attr('width',qrW).attr('height',qrH).attr('fill','#fff');
const qx=d3.scaleBand().domain(d3.range(qrN)).range([qrX+qrPad,qrX+qrW-qrPad]);
const qy=d3.scaleBand().domain(d3.range(qrN)).range([qrY+qrPad,qrY+qrH-qrPad]);
const inF=(a,b,p,q)=>a>=p&&a<p+7&&b>=q&&b<q+7;
const finder=(a,b,p,q)=>{const u=a-p,v=b-q;return u===0||u===6||v===0||v===6||(u>=2&&u<=4&&v>=2&&v<=4)};
const cell=(i,j)=>{
  for(const [p,q] of [[0,0],[qrN-7,0],[0,qrN-7]]) if(inF(i,j,p,q)) return finder(i,j,p,q);
  if((i===7&&j<8)||(j===7&&i<8)||(i===qrN-8&&j<8)||(j===7&&i>=qrN-8)||(i===7&&j>=qrN-8)||(j===qrN-8&&i<8)) return false;
  return ((i*i*3+j*7+i*j*5+(i^j)*11)%7)<3;
};
d3.range(qrN).forEach(i=>d3.range(qrN).forEach(j=>{if(cell(i,j)) svg.append('rect').attr('x',qx(i)).attr('y',qy(j)).attr('width',qx.bandwidth()+.2).attr('height',qy.bandwidth()+.2).attr('fill','#111');}));
svg.append('rect').attr('x',1586.5).attr('y',2358).attr('width',24).attr('height',20).attr('fill','#fff');
txt(svg,1598.5,2364,'ooo',{fs:10,fw:700,fill:'#c00000',a:'middle',ff:LAT});
txt(svg,1598.5,2372,'期货',{fs:6,fill:'#333',a:'middle'});
</script></body></html>
